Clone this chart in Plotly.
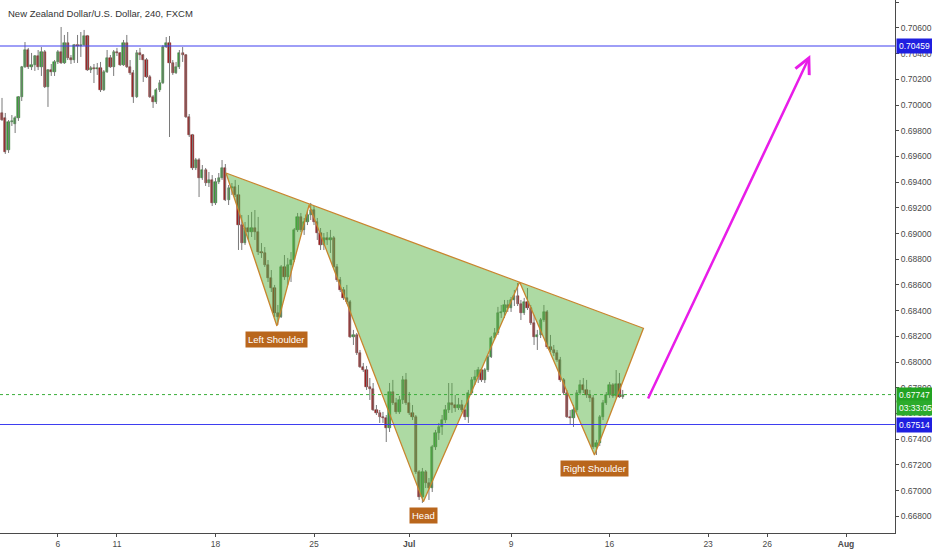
import plotly.graph_objects as go

# ---------------- data (NZDUSD, 4h candles, FXCM) ----------------
opens = [0.69938,0.69899,0.69650,0.69868,0.69852,0.69899,0.70062,0.70296,0.70428,0.70296,
0.70311,0.70381,0.70296,0.70412,0.70140,0.70272,0.70257,0.70335,0.70412,0.70327,
0.70482,0.70366,0.70350,0.70467,0.70459,0.70467,0.70537,0.70272,0.70288,0.70280,
0.70288,0.70117,0.70257,0.70366,0.70296,0.70412,0.70405,0.70311,0.70482,0.70296,
0.70249,0.70062,0.70405,0.70389,0.70350,0.70218,0.70062,0.70023,0.70117,0.70171,
0.70451,0.70482,0.70327,0.70249,0.70296,0.70405,0.70389,0.69907,0.69767,0.69510,
0.69572,0.69432,0.69494,0.69393,0.69417,0.69238,0.69401,0.69432,0.69510,0.69261,
0.69354,0.69362,0.69300,0.69066,0.68926,0.69043,0.69012,0.69043,0.69012,0.68856,
0.68849,0.68755,0.68654,0.68576,0.68382,0.68351,0.68740,0.68662,0.68755,0.68794,
0.69028,0.69129,0.69028,0.69090,0.69144,0.69183,0.69090,0.69004,0.68911,0.68965,
0.68950,0.68965,0.68740,0.68639,0.68561,0.68499,0.68467,0.68195,0.68211,0.68071,
0.67962,0.67938,0.67806,0.67791,0.67627,0.67604,0.67573,0.67565,0.67487,0.67767,
0.67682,0.67612,0.67705,0.67861,0.67682,0.67604,0.67573,0.67145,0.66950,0.67145,
0.67059,0.67020,0.67339,0.67448,0.67495,0.67549,0.67627,0.67682,0.67666,0.67643,
0.67666,0.67627,0.67573,0.67759,0.67861,0.67884,0.67938,0.67861,0.67938,0.68040,
0.68187,0.68226,0.68382,0.68390,0.68444,0.68421,0.68483,0.68514,0.68452,0.68382,
0.68467,0.68421,0.68304,0.68195,0.68211,0.68327,0.68390,0.68117,0.68094,0.68071,
0.68016,0.67861,0.67759,0.67573,0.67565,0.67627,0.67759,0.67822,0.67783,0.67744,
0.67721,0.67339,0.67370,0.67573,0.67682,0.67744,0.67822,0.67736,0.67830,0.67728]

highs = [0.70055,0.69938,0.69883,0.69922,0.69915,0.70070,0.70304,0.70490,0.70444,0.70405,
0.70389,0.70428,0.70451,0.70428,0.70280,0.70319,0.70350,0.70428,0.70607,0.70545,
0.70568,0.70389,0.70475,0.70545,0.70568,0.70584,0.70545,0.70304,0.70319,0.70327,
0.70335,0.70272,0.70428,0.70389,0.70428,0.70444,0.70412,0.70506,0.70545,0.70350,
0.70272,0.70428,0.70444,0.70397,0.70366,0.70234,0.70078,0.70132,0.70195,0.70467,
0.70529,0.70537,0.70350,0.70335,0.70428,0.70451,0.70397,0.69930,0.69775,0.69588,
0.69588,0.69533,0.69510,0.69479,0.69455,0.69432,0.69471,0.69572,0.69541,0.69378,
0.69393,0.69417,0.69378,0.69144,0.69090,0.69144,0.69168,0.69183,0.69129,0.68926,
0.68895,0.68794,0.68716,0.68600,0.68444,0.68755,0.68833,0.68810,0.68856,0.69043,
0.69160,0.69160,0.69121,0.69183,0.69238,0.69214,0.69121,0.69043,0.69004,0.69012,
0.69028,0.68981,0.68763,0.68662,0.68584,0.68600,0.68483,0.68250,0.68226,0.68094,
0.67993,0.67970,0.67876,0.67837,0.67666,0.67627,0.67612,0.67588,0.67837,0.67861,
0.67721,0.67736,0.67892,0.67915,0.67767,0.67666,0.67588,0.67160,0.67176,0.67160,
0.67098,0.67355,0.67472,0.67526,0.67588,0.67666,0.67837,0.67837,0.67744,0.67721,
0.67705,0.67666,0.67783,0.67884,0.67938,0.67962,0.67954,0.67954,0.68055,0.68203,
0.68265,0.68429,0.68444,0.68483,0.68483,0.68506,0.68561,0.68615,0.68483,0.68499,
0.68576,0.68444,0.68366,0.68250,0.68343,0.68444,0.68405,0.68211,0.68133,0.68094,
0.68040,0.67876,0.67783,0.67627,0.67666,0.67783,0.67861,0.67876,0.67861,0.67783,
0.67744,0.67394,0.67588,0.67705,0.67767,0.67845,0.67837,0.67938,0.67915,0.67783]

lows = [0.69876,0.69619,0.69627,0.69837,0.69782,0.69876,0.70031,0.70288,0.70280,0.70272,
0.70265,0.70272,0.70226,0.70132,0.69985,0.70226,0.70226,0.70319,0.70319,0.70319,
0.70350,0.70319,0.70327,0.70327,0.70374,0.70459,0.70265,0.70249,0.70171,0.70234,
0.70101,0.70109,0.70249,0.70288,0.70226,0.70381,0.70304,0.70304,0.70288,0.70234,
0.70016,0.70055,0.70350,0.70179,0.70210,0.70055,0.69977,0.70008,0.70101,0.70163,
0.70444,0.69751,0.70234,0.70241,0.70280,0.70335,0.69899,0.69751,0.69494,0.69494,
0.69284,0.69417,0.69370,0.69362,0.69214,0.69222,0.69385,0.69417,0.69253,0.69222,
0.69300,0.69284,0.68872,0.68872,0.68911,0.68950,0.68973,0.68950,0.68833,0.68810,
0.68740,0.68623,0.68545,0.68351,0.68289,0.68343,0.68639,0.68600,0.68623,0.68779,
0.69012,0.69012,0.68989,0.69066,0.69105,0.69066,0.68950,0.68872,0.68872,0.68911,
0.68849,0.68732,0.68623,0.68545,0.68483,0.68452,0.68187,0.68133,0.68055,0.67954,
0.67923,0.67783,0.67705,0.67619,0.67588,0.67526,0.67526,0.67378,0.67456,0.67666,
0.67596,0.67596,0.67674,0.67666,0.67588,0.67549,0.67129,0.66927,0.66904,0.67020,
0.66927,0.66989,0.67316,0.67394,0.67433,0.67526,0.67604,0.67604,0.67612,0.67627,
0.67612,0.67549,0.67526,0.67744,0.67822,0.67837,0.67845,0.67837,0.67923,0.68032,
0.68172,0.68211,0.68343,0.68343,0.68390,0.68390,0.68436,0.68436,0.68327,0.68366,
0.68405,0.68289,0.68133,0.68094,0.68187,0.68312,0.68102,0.68078,0.68047,0.68001,
0.67845,0.67744,0.67565,0.67511,0.67495,0.67612,0.67744,0.67759,0.67721,0.67689,
0.67324,0.67277,0.67347,0.67549,0.67666,0.67721,0.67721,0.67721,0.67721,0.67713]

closes = [0.69883,0.69634,0.69868,0.69876,0.69899,0.70062,0.70296,0.70428,0.70296,0.70311,
0.70381,0.70296,0.70412,0.70140,0.70272,0.70257,0.70335,0.70412,0.70327,0.70482,
0.70366,0.70350,0.70467,0.70459,0.70467,0.70537,0.70272,0.70288,0.70280,0.70288,
0.70117,0.70257,0.70366,0.70296,0.70412,0.70405,0.70311,0.70482,0.70296,0.70249,
0.70062,0.70405,0.70389,0.70350,0.70218,0.70062,0.70023,0.70117,0.70171,0.70451,
0.70482,0.70327,0.70249,0.70296,0.70405,0.70389,0.69907,0.69767,0.69510,0.69572,
0.69432,0.69494,0.69393,0.69417,0.69238,0.69401,0.69432,0.69510,0.69261,0.69354,
0.69362,0.69300,0.69066,0.68926,0.69043,0.69012,0.69043,0.69012,0.68856,0.68849,
0.68755,0.68654,0.68576,0.68382,0.68351,0.68740,0.68662,0.68755,0.68794,0.69028,
0.69129,0.69028,0.69090,0.69144,0.69183,0.69090,0.69004,0.68911,0.68965,0.68950,
0.68965,0.68740,0.68639,0.68561,0.68499,0.68467,0.68195,0.68211,0.68071,0.67962,
0.67938,0.67806,0.67791,0.67627,0.67604,0.67573,0.67565,0.67487,0.67767,0.67682,
0.67612,0.67705,0.67861,0.67682,0.67604,0.67573,0.67145,0.66950,0.67145,0.67059,
0.67020,0.67339,0.67448,0.67495,0.67549,0.67627,0.67682,0.67666,0.67643,0.67666,
0.67627,0.67573,0.67759,0.67861,0.67884,0.67938,0.67861,0.67938,0.68040,0.68187,
0.68226,0.68382,0.68390,0.68444,0.68421,0.68483,0.68514,0.68452,0.68382,0.68467,
0.68421,0.68304,0.68195,0.68211,0.68327,0.68390,0.68117,0.68094,0.68071,0.68016,
0.67861,0.67759,0.67573,0.67565,0.67627,0.67759,0.67822,0.67783,0.67744,0.67721,
0.67339,0.67370,0.67573,0.67682,0.67744,0.67822,0.67736,0.67830,0.67728,0.67747]

# date ticks (candle index of each labelled day)
tick_idx = [17, 35, 65, 95, 124, 155, 185, 215, 233, 257]
tick_text = ["6", "11", "18", "25", "<b>Jul</b>", "9", "16", "23", "26", "<b>Aug</b>"]

# inverse head & shoulders pattern points (candle index, price)
pattern_idx = [68.2, 83.7, 93.5, 128.3, 157.6, 180.4, 195.3]
pattern_price = [0.69471, 0.68281, 0.69222, 0.66914, 0.68623, 0.67277, 0.68263]
pattern_labels = {1: "Left Shoulder", 3: "Head", 5: "Right Shoulder"}

# projected move arrow (start, end)
arrow_idx = [196.5, 246.1]
arrow_price = [0.67705, 0.70389]

resistance = 0.70459
support = 0.67514
last_price = 0.67747
countdown = "03:33:05"
title = "New Zealand Dollar/U.S. Dollar, 240, FXCM"

# ---------------- styling ----------------
UP_FILL, UP_LINE = "#3f9f3f", "#1f6e1f"
DN_FILL, DN_LINE = "#a32222", "#6b0f0f"
WICK = "#7a7a7a"
AXIS = "#4a4a4a"
FONT = "Liberation Sans, Arial, sans-serif"

idx = list(range(len(closes)))

wick_x, wick_y = [], []
for i, h, l in zip(idx, highs, lows):
    wick_x += [i, i, None]
    wick_y += [l, h, None]

body_base = [min(o, c) for o, c in zip(opens, closes)]
body_len = [max(abs(c - o), 0.00002) for o, c in zip(opens, closes)]
is_up = [c >= o for o, c in zip(opens, closes)]
fills = [UP_FILL if u else DN_FILL for u in is_up]
edges = [UP_LINE if u else DN_LINE for u in is_up]

fig = go.Figure()
fig.add_trace(go.Scatter(x=wick_x, y=wick_y, mode="lines",
                         line=dict(color=WICK, width=1), hoverinfo="skip"))
fig.add_trace(go.Bar(x=idx, y=body_len, base=body_base, width=0.68,
                     marker=dict(color=fills, line=dict(color=edges, width=0.5))))

# pattern polygon (drawn above candles, semi-transparent)
poly_x = pattern_idx + [pattern_idx[0]]
poly_y = pattern_price + [pattern_price[0]]
fig.add_trace(go.Scatter(x=poly_x, y=poly_y, mode="lines", fill="toself",
                         fillcolor="rgba(84,178,62,0.48)",
                         line=dict(color="#c8852e", width=1.3), hoverinfo="skip"))

shapes = [
    dict(type="line", xref="paper", x0=0, x1=1, yref="y", y0=resistance, y1=resistance,
         line=dict(color="#3e3ef0", width=1.2)),
    dict(type="line", xref="paper", x0=0, x1=1, yref="y", y0=support, y1=support,
         line=dict(color="#3e3ef0", width=1.2)),
    dict(type="line", xref="paper", x0=0, x1=1, yref="y", y0=last_price, y1=last_price,
         line=dict(color="#3aae3a", width=1, dash="dot")),
]

ann = [
    dict(text=title, xref="paper", yref="paper", x=0.007, y=0.974, xanchor="left",
         yanchor="middle", showarrow=False, font=dict(family=FONT, size=9.5, color="#333333")),
    dict(x=arrow_idx[1], y=arrow_price[1], ax=arrow_idx[0], ay=arrow_price[0],
         xref="x", yref="y", axref="x", ayref="y", showarrow=True, text="",
         arrowhead=5, arrowsize=1.2, arrowwidth=2.5, arrowcolor="#e81de8"),
]
for k, txt in pattern_labels.items():
    ann.append(dict(text=txt, x=pattern_idx[k], y=pattern_price[k], xref="x", yref="y",
                    yanchor="top", yshift=-5, showarrow=False, bgcolor="#b9661c",
                    borderpad=2, font=dict(family=FONT, size=9.5, color="white")))

def axis_label(val, txt, bg, shift=0):
    return dict(text=txt, xref="paper", x=1, xanchor="left", xshift=1, y=val, yref="y",
                yanchor="middle", yshift=shift, showarrow=False, bgcolor=bg, borderpad=2,
                font=dict(family=FONT, size=8.5, color="white"))

ann += [
    axis_label(resistance, f"{resistance:.5f}", "#1f1fe0"),
    axis_label(last_price, f"{last_price:.5f}", "#22a322"),
    axis_label(last_price, countdown, "#2cab2c", shift=-13),
    axis_label(support, f"{support:.5f}", "#1f1fe0"),
]

fig.update_layout(
    width=932, height=550,
    margin=dict(l=0, r=37, t=0, b=17),
    paper_bgcolor="white", plot_bgcolor="white",
    showlegend=False, bargap=0,
    font=dict(family=FONT, size=8.5, color=AXIS),
    shapes=shapes, annotations=ann,
    xaxis=dict(range=[-0.61, 271.9], showgrid=False, zeroline=False,
               tickmode="array", tickvals=tick_idx, ticktext=tick_text,
               ticks="outside", ticklen=3, tickcolor=AXIS,
               showline=True, linecolor=AXIS, linewidth=1,
               tickfont=dict(family=FONT, size=8.5, color=AXIS)),
    yaxis=dict(range=[0.66670, 0.70817], side="right", showgrid=False, zeroline=False,
               tick0=0.668, dtick=0.002, tickformat=".5f",
               ticks="outside", ticklen=3, tickcolor=AXIS,
               showline=True, linecolor=AXIS, linewidth=1,
               tickfont=dict(family=FONT, size=8.5, color=AXIS)),
)

fig.write_html("out.html", config={"displayModeBar": False},
               post_script="document.body.style.margin='0';document.body.style.padding='0';")
